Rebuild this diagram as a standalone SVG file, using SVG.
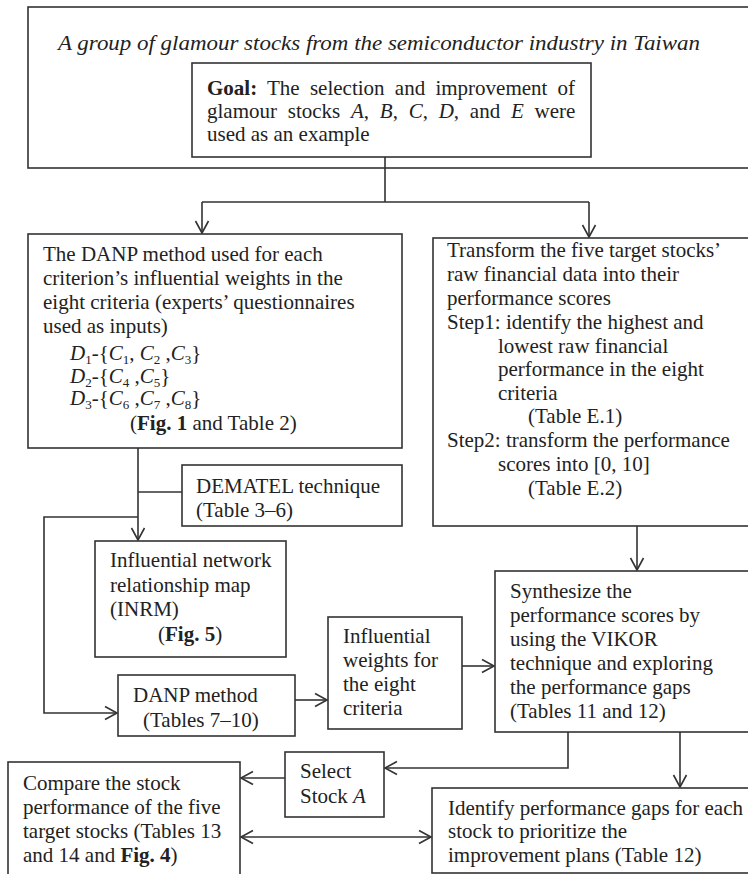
<svg xmlns="http://www.w3.org/2000/svg" width="748" height="874" viewBox="0 0 748 874">
<defs>
<style>
.bx{fill:#fff;stroke:#333;stroke-width:1.6}
.t{font-family:"Liberation Serif","Times New Roman",serif;font-size:21px;fill:#222}
.it{font-style:italic}
.b{font-weight:bold}
.sb{font-size:13px;font-style:normal}
.ln{fill:none;stroke:#333;stroke-width:1.6}
.ar{fill:none;stroke:#333;stroke-width:1.6;marker-end:url(#arr)}
.ar2{fill:none;stroke:#333;stroke-width:1.6;marker-end:url(#arr);marker-start:url(#arr)}
</style>
<marker id="arr" viewBox="-14 -8 16 16" refX="0" refY="0" markerWidth="16" markerHeight="16" markerUnits="userSpaceOnUse" orient="auto-start-reverse">
<path d="M-12,-6.5 L0,0 L-12,6.5" fill="none" stroke="#333" stroke-width="1.6"/>
</marker>
</defs>
<rect width="748" height="874" fill="#fff"/>

<g id="outer">
<rect class="bx" x="28" y="7" width="740" height="161"/>
<text class="t it" x="58" y="50" font-size="23" textLength="642" lengthAdjust="spacingAndGlyphs">A group of glamour stocks from the semiconductor industry in Taiwan</text>
</g>

<g id="goal">
<rect class="bx" x="192" y="63" width="399" height="94"/>
<text class="t" x="207" y="95" word-spacing="5"><tspan class="b">Goal:</tspan> The selection and improvement of</text>
<text class="t" x="207" y="118" word-spacing="5.5">glamour stocks <tspan class="it">A</tspan>, <tspan class="it">B</tspan>, <tspan class="it">C</tspan>, <tspan class="it">D</tspan>, and <tspan class="it">E</tspan> were</text>
<text class="t" x="207" y="141">used as an example</text>
</g>

<g id="connectors">
<path class="ln" d="M385,157 V202 M202,202 H589"/>
<path class="ar" d="M202,202 V233"/>
<path class="ar" d="M589,202 V237"/>
<path class="ar" d="M138,448 V540"/>
<path class="ln" d="M138,492 H182"/>
<path class="ln" d="M44,354 V397 M44,354 H68 M44,376 H68 M44,397 H68"/>
<path class="ar" d="M138,517 H44 V713 H117"/>
<path class="ar" d="M295,700 H327"/>
<path class="ar" d="M462,666 H494"/>
<path class="ar" d="M637,526 V570"/>
<path class="ar" d="M568,732 V768 H385"/>
<path class="ar" d="M680,732 V787"/>
<path class="ar" d="M285,778 H241"/>
<path class="ar2" d="M241,837 H431"/>
</g>

<g id="danp">
<rect class="bx" x="28" y="234" width="374" height="214"/>
<text class="t" x="43" y="261">The DANP method used for each</text>
<text class="t" x="43" y="285">criterion’s influential weights in the</text>
<text class="t" x="43" y="309">eight criteria (experts’ questionnaires</text>
<text class="t" x="43" y="333">used as inputs)</text>
<text class="t" x="70" y="360"><tspan class="it">D</tspan><tspan class="sb" dy="4">1</tspan><tspan dy="-4">-{</tspan><tspan class="it">C</tspan><tspan class="sb" dy="4">1</tspan><tspan dy="-4">, </tspan><tspan class="it">C</tspan><tspan class="sb" dy="4">2</tspan><tspan dy="-4"> ,</tspan><tspan class="it">C</tspan><tspan class="sb" dy="4">3</tspan><tspan dy="-4">}</tspan></text>
<text class="t" x="70" y="383"><tspan class="it">D</tspan><tspan class="sb" dy="4">2</tspan><tspan dy="-4">-{</tspan><tspan class="it">C</tspan><tspan class="sb" dy="4">4</tspan><tspan dy="-4"> ,</tspan><tspan class="it">C</tspan><tspan class="sb" dy="4">5</tspan><tspan dy="-4">}</tspan></text>
<text class="t" x="70" y="405"><tspan class="it">D</tspan><tspan class="sb" dy="4">3</tspan><tspan dy="-4">-{</tspan><tspan class="it">C</tspan><tspan class="sb" dy="4">6</tspan><tspan dy="-4"> ,</tspan><tspan class="it">C</tspan><tspan class="sb" dy="4">7</tspan><tspan dy="-4"> ,</tspan><tspan class="it">C</tspan><tspan class="sb" dy="4">8</tspan><tspan dy="-4">}</tspan></text>
<text class="t" x="130" y="430">(<tspan class="b">Fig. 1</tspan> and Table 2)</text>
</g>

<g id="dematel">
<rect class="bx" x="182" y="465" width="220" height="61"/>
<text class="t" x="196" y="493">DEMATEL technique</text>
<text class="t" x="196" y="517">(Table 3–6)</text>
</g>

<g id="inrm">
<rect class="bx" x="95" y="541" width="191" height="116"/>
<text class="t" x="110" y="567">Influential network</text>
<text class="t" x="110" y="592">relationship map</text>
<text class="t" x="110" y="616">(INRM)</text>
<text class="t" x="158" y="641">(<tspan class="b">Fig. 5</tspan>)</text>
</g>

<g id="danp-method">
<rect class="bx" x="118" y="675" width="177" height="61"/>
<text class="t" x="133" y="702">DANP method</text>
<text class="t" x="143" y="727">(Tables 7–10)</text>
</g>

<g id="weights">
<rect class="bx" x="328" y="617" width="134" height="112"/>
<text class="t" x="343" y="643">Influential</text>
<text class="t" x="343" y="667">weights for</text>
<text class="t" x="343" y="691">the eight</text>
<text class="t" x="343" y="715">criteria</text>
</g>

<g id="transform">
<rect class="bx" x="433" y="238" width="330" height="288"/>
<text class="t" x="447" y="257">Transform the five target stocks’</text>
<text class="t" x="447" y="281">raw financial data into their</text>
<text class="t" x="447" y="305">performance scores</text>
<text class="t" x="447" y="329">Step1: identify the highest and</text>
<text class="t" x="498" y="353">lowest raw financial</text>
<text class="t" x="498" y="376">performance in the eight</text>
<text class="t" x="498" y="400">criteria</text>
<text class="t" x="528" y="423">(Table E.1)</text>
<text class="t" x="447" y="447">Step2: transform the performance</text>
<text class="t" x="498" y="471">scores into [0, 10]</text>
<text class="t" x="528" y="495">(Table E.2)</text>
</g>

<g id="synthesize">
<rect class="bx" x="495" y="571" width="268" height="161"/>
<text class="t" x="510" y="598">Synthesize the</text>
<text class="t" x="510" y="622">performance scores by</text>
<text class="t" x="510" y="646">using the VIKOR</text>
<text class="t" x="510" y="670">technique and exploring</text>
<text class="t" x="510" y="694">the performance gaps</text>
<text class="t" x="510" y="718">(Tables 11 and 12)</text>
</g>

<g id="select">
<rect class="bx" x="285" y="752" width="99" height="65"/>
<text class="t" x="300" y="778">Select</text>
<text class="t" x="300" y="803">Stock <tspan class="it">A</tspan></text>
</g>

<g id="compare">
<rect class="bx" x="8" y="762" width="232" height="130"/>
<text class="t" x="23" y="790">Compare the stock</text>
<text class="t" x="23" y="814">performance of the five</text>
<text class="t" x="23" y="838">target stocks (Tables 13</text>
<text class="t" x="23" y="862">and 14 and <tspan class="b">Fig. 4</tspan>)</text>
</g>

<g id="identify">
<rect class="bx" x="432" y="788" width="330" height="85"/>
<text class="t" x="448" y="815">Identify performance gaps for each</text>
<text class="t" x="448" y="838">stock to prioritize the</text>
<text class="t" x="448" y="862">improvement plans (Table 12)</text>
</g>
</svg>
